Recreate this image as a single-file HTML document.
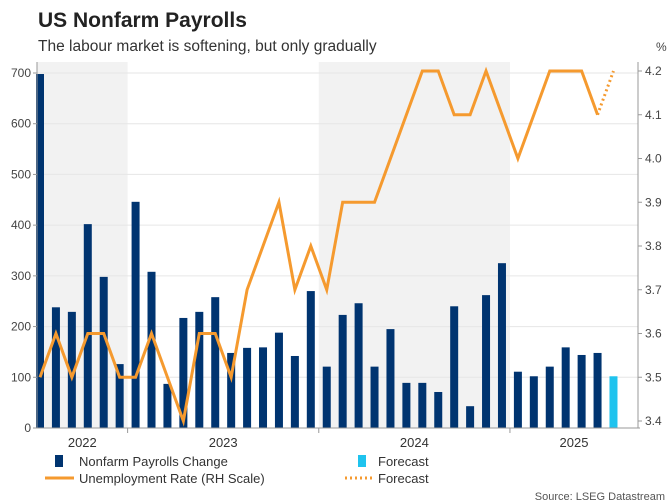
<!DOCTYPE html>
<html><head><meta charset="utf-8"><style>
body{margin:0;background:#fff;font-family:"Liberation Sans",sans-serif;}
#c{position:relative;width:672px;height:504px;overflow:hidden;}
</style></head><body>
<div id="c">
<svg id="s" width="672" height="504" xmlns="http://www.w3.org/2000/svg">
<text x="38" y="27" font-size="21" font-weight="bold" fill="#222">US Nonfarm Payrolls</text>
<text x="38" y="51" font-size="15.5" fill="#333">The labour market is softening, but only gradually</text>
<text x="656" y="51" font-size="12" fill="#444">%</text>
<g id="bands"></g><g id="grid"></g><g id="bars"></g><g id="lines"></g><g id="axes"></g>
<g>
<rect x="55" y="455" width="8" height="12" fill="#003470"/>
<text x="79" y="466" font-size="13" fill="#333">Nonfarm Payrolls Change</text>
<rect x="358" y="455" width="8" height="12" fill="#1fc3ee"/>
<text x="378" y="466" font-size="13" fill="#333">Forecast</text>
<line x1="45" y1="478" x2="74" y2="478" stroke="#f59a2f" stroke-width="3"/>
<text x="79" y="483" font-size="13" fill="#333">Unemployment Rate (RH Scale)</text>
<line x1="345" y1="478" x2="372" y2="478" stroke="#f59a2f" stroke-width="3" stroke-dasharray="2,3"/>
<text x="378" y="483" font-size="13" fill="#333">Forecast</text>
</g>
<text x="665" y="500" font-size="11" fill="#555" text-anchor="end">Source: LSEG Datastream</text>
</svg>
</div>
<script>
const payrolls=[698,238,229,402,298,126,446,308,87,217,229,258,148,158,159,188,142,270,121,223,246,121,195,89,89,71,240,43,262,325,111,102,121,159,144,148,102];
const unemployment=[3.5,3.6,3.5,3.6,3.6,3.5,3.5,3.6,3.5,3.4,3.6,3.6,3.5,3.7,3.8,3.9,3.7,3.8,3.7,3.9,3.9,3.9,4.0,4.1,4.2,4.2,4.1,4.1,4.2,4.1,4.0,4.1,4.2,4.2,4.2,4.1,4.2];
const forecastFrom=36;
const leftTicks=[0,100,200,300,400,500,600,700];
const rightTicks=[3.4,3.5,3.6,3.7,3.8,3.9,4.0,4.1,4.2];
const years=["2022","2023","2024","2025"];
const yearStarts=[0,6,18,30,37];
const NS="http://www.w3.org/2000/svg";
const X0=40,STEP=15.93,L=37,R=638,B=428;
const xs=i=>X0+i*STEP;
const yl=v=>B-(v/700)*(B-73);
const yr=v=>421-(v-3.4)/0.8*(421-71);
function mk(p,t,a){const e=document.createElementNS(NS,t);for(const k in a)e.setAttribute(k,a[k]);document.getElementById(p).appendChild(e);return e;}
// bands
for(let k=0;k<4;k+=2){const x1=k==0?L:xs(yearStarts[k])-STEP/2,x2=xs(yearStarts[k+1])-STEP/2;
const r=mk('bands','rect',{x:x1,y:62,width:x2-x1,height:B-62,fill:'#f2f2f2'});

}
leftTicks.forEach(v=>{const y=yl(v);
const g=mk('grid','line',{x1:L,x2:R,y1:y,y2:y,stroke:'#e6e6e6','stroke-width':1});


const t=mk('axes','text',{x:31,y:y+4,'font-size':12,fill:'#444','text-anchor':'end'});t.textContent=v;


mk('axes','line',{x1:L-4,x2:L,y1:y,y2:y,stroke:'#999'});});
rightTicks.forEach(v=>{const y=yr(v);
const t=mk('axes','text',{x:645,y:y+4,'font-size':12,fill:'#444'});t.textContent=v.toFixed(1);


mk('axes','line',{x1:R,x2:R+4,y1:y,y2:y,stroke:'#999'});});
payrolls.forEach((v,i)=>{const r=mk('bars','rect',{x:xs(i)-4,y:yl(v),width:8,height:B-yl(v),fill:i>=forecastFrom?'#1fc3ee':'#003470'});

});
let d='';for(let i=0;i<=forecastFrom-1;i++)d+=(i?'L':'M')+xs(i)+' '+yr(unemployment[i]);
const pl=mk('lines','path',{d:d,fill:'none',stroke:'#f59a2f','stroke-width':3,'stroke-linejoin':'miter'});


let fd='M'+xs(forecastFrom-1)+' '+yr(unemployment[forecastFrom-1]);for(let i=forecastFrom;i<unemployment.length;i++)fd+='L'+xs(i)+' '+yr(unemployment[i]);
const fl=mk('lines','path',{d:fd,fill:'none',stroke:'#f59a2f','stroke-width':3,'stroke-dasharray':'2,3'});


mk('axes','line',{x1:L,x2:L,y1:62,y2:B,stroke:'#999'});
mk('axes','line',{x1:R,x2:R,y1:62,y2:B,stroke:'#999'});
mk('axes','line',{x1:L,x2:R+2,y1:B,y2:B,stroke:'#999'});
years.forEach((yv,k)=>{const a=k==0?L:xs(yearStarts[k])-STEP/2,b=k==3?R:xs(yearStarts[k+1])-STEP/2;
if(k>0)mk('axes','line',{x1:a,x2:a,y1:B,y2:B+5,stroke:'#999'});
const t=mk('axes','text',{x:(a+b)/2,y:447,'font-size':13,fill:'#333','text-anchor':'middle'});t.textContent=yv;

});
</script>
</body></html>
